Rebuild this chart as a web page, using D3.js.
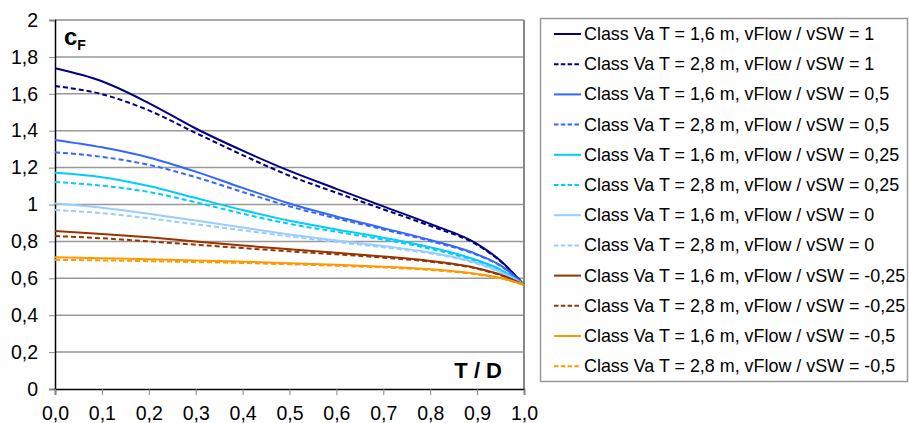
<html>
<head>
<script src="https://d3js.org/d3.v7.min.js"></script>
<style>
body { margin: 0; background: #fff; }
text { font-family: Arial, "Liberation Sans", sans-serif; fill: #000; }
</style>
</head>
<body>
<div id="canvas"></div>
<script>

// T / D positions
var xs = [0, 0.1, 0.2, 0.3, 0.4, 0.5, 0.6, 0.7, 0.8, 0.9, 0.95, 1.0];

var navy16 = [1.738, 1.668, 1.550, 1.412, 1.292, 1.182, 1.085, 0.990, 0.895, 0.787, 0.695, 0.565];
var navy28 = [1.642, 1.598, 1.510, 1.388, 1.268, 1.156, 1.064, 0.974, 0.884, 0.781, 0.692, 0.565];
var blue16 = [1.350, 1.310, 1.255, 1.178, 1.090, 1.005, 0.935, 0.872, 0.808, 0.730, 0.670, 0.565];
var blue28 = [1.283, 1.258, 1.215, 1.148, 1.068, 0.990, 0.925, 0.865, 0.802, 0.726, 0.667, 0.565];
var cyan16 = [1.172, 1.148, 1.100, 1.035, 0.970, 0.912, 0.865, 0.820, 0.768, 0.698, 0.647, 0.565];
var cyan28 = [1.122, 1.102, 1.068, 1.012, 0.950, 0.895, 0.852, 0.810, 0.760, 0.692, 0.642, 0.565];
var light16 = [1.006, 0.983, 0.950, 0.913, 0.875, 0.838, 0.805, 0.775, 0.740, 0.683, 0.635, 0.565];
var light28 = [0.970, 0.953, 0.925, 0.893, 0.860, 0.827, 0.797, 0.768, 0.735, 0.679, 0.632, 0.565];
var brown16 = [0.856, 0.840, 0.822, 0.800, 0.778, 0.757, 0.738, 0.718, 0.694, 0.655, 0.620, 0.565];
var brown28 = [0.829, 0.817, 0.800, 0.782, 0.764, 0.746, 0.730, 0.712, 0.690, 0.652, 0.617, 0.565];
var orange16 = [0.714, 0.709, 0.703, 0.697, 0.690, 0.682, 0.673, 0.663, 0.649, 0.624, 0.602, 0.565];
var orange28 = [0.700, 0.697, 0.693, 0.688, 0.683, 0.676, 0.668, 0.659, 0.645, 0.621, 0.599, 0.565];

var seriesNames = [
  "Class Va T = 1,6 m, vFlow / vSW = 1",
  "Class Va T = 2,8 m, vFlow / vSW = 1",
  "Class Va T = 1,6 m, vFlow / vSW = 0,5",
  "Class Va T = 2,8 m, vFlow / vSW = 0,5",
  "Class Va T = 1,6 m, vFlow / vSW = 0,25",
  "Class Va T = 2,8 m, vFlow / vSW = 0,25",
  "Class Va T = 1,6 m, vFlow / vSW = 0",
  "Class Va T = 2,8 m, vFlow / vSW = 0",
  "Class Va T = 1,6 m, vFlow / vSW = -0,25",
  "Class Va T = 2,8 m, vFlow / vSW = -0,25",
  "Class Va T = 1,6 m, vFlow / vSW = -0,5",
  "Class Va T = 2,8 m, vFlow / vSW = -0,5"
];
var seriesValues = [navy16, navy28, blue16, blue28, cyan16, cyan28, light16, light28, brown16, brown28, orange16, orange28];
var colors = ["#000080", "#000080", "#3366ff", "#3366ff", "#00ccff", "#00ccff",
              "#99ccff", "#99ccff", "#993300", "#993300", "#ff9900", "#ff9900"];

var xTicks = [0, 0.1, 0.2, 0.3, 0.4, 0.5, 0.6, 0.7, 0.8, 0.9, 1.0];
var yTicks = [0, 0.2, 0.4, 0.6, 0.8, 1, 1.2, 1.4, 1.6, 1.8, 2];

var width = 909, height = 423;
var plotLeft = 55, plotRight = 524, plotTop = 20, plotBottom = 389;

var svg = d3.select("#canvas").append("svg").attr("width", width).attr("height", height);

var x = d3.scaleLinear().domain([0, 1]).range([plotLeft, plotRight]);
var y = d3.scaleLinear().domain([0, 2]).range([plotBottom, plotTop]);

var comma = function(v, digits) { return v.toFixed(digits).replace(".", ","); };

// grid
svg.append("g").selectAll("line").data(yTicks.slice(1, -1)).enter().append("line")
  .attr("x1", plotLeft).attr("x2", plotRight)
  .attr("y1", function(d) { return y(d); }).attr("y2", function(d) { return y(d); })
  .attr("stroke", "#999").attr("stroke-width", 1.5);

// frame top / right
svg.append("line").attr("x1", plotLeft).attr("x2", plotRight).attr("y1", plotTop).attr("y2", plotTop)
  .attr("stroke", "#555").attr("stroke-width", 1.2);
svg.append("line").attr("x1", plotRight).attr("x2", plotRight).attr("y1", plotTop).attr("y2", plotBottom)
  .attr("stroke", "#888").attr("stroke-width", 2);

// axes
var yAxis = d3.axisLeft(y).tickValues(yTicks).tickSize(6).tickPadding(11)
  .tickFormat(function(d) { return d === 0 || d === 1 || d === 2 ? String(d) : comma(d, 1); });
var gy = svg.append("g").attr("transform", "translate(" + plotLeft + ",0)").call(yAxis);
gy.select(".domain").attr("stroke", "#000").attr("stroke-width", 1.5);
gy.selectAll(".tick line").attr("stroke", "#888");
gy.selectAll("text").style("font-size", "19.5px").style("font-family", "Arial, 'Liberation Sans', sans-serif");

var xAxis = d3.axisBottom(x).tickValues(xTicks).tickSize(6).tickPadding(11)
  .tickFormat(function(d) { return comma(d, 1); });
var gx = svg.append("g").attr("transform", "translate(0," + plotBottom + ")").call(xAxis);
gx.select(".domain").attr("stroke", "#000").attr("stroke-width", 1.5);
gx.selectAll(".tick line").attr("stroke", "#888");
gx.selectAll("text").style("font-size", "19.5px").style("font-family", "Arial, 'Liberation Sans', sans-serif");

// curves
var line = d3.line()
  .x(function(d, i) { return x(xs[i]); })
  .y(function(d) { return y(d); })
  .curve(d3.curveMonotoneX);

svg.append("g").selectAll("path").data(seriesValues).enter().append("path")
  .attr("d", line)
  .attr("fill", "none")
  .attr("stroke", function(d, i) { return colors[i]; })
  .attr("stroke-width", 2)
  .attr("stroke-dasharray", function(d, i) { return i % 2 ? "5,3" : null; });

// axis titles
var cf = svg.append("text").attr("x", 64).attr("y", 45).attr("font-size", 24).attr("font-weight", "bold");
cf.append("tspan").text("c");
cf.append("tspan").attr("font-size", 14).attr("dy", 5).text("F");

svg.append("text").attr("x", 502).attr("y", 377.5).attr("text-anchor", "end")
  .attr("font-size", 22).attr("font-weight", "bold").text("T / D");

// legend
svg.append("rect").attr("x", 540.5).attr("y", 18.5).attr("width", 367).attr("height", 363)
  .attr("fill", "#fff").attr("stroke", "#999").attr("stroke-width", 1.5);

var leg = svg.append("g").selectAll("g").data(seriesNames).enter().append("g")
  .attr("transform", function(d, i) { return "translate(0," + (34 + i * 30.2) + ")"; });
leg.append("line").attr("x1", 554).attr("x2", 581).attr("y1", 0).attr("y2", 0)
  .attr("stroke", function(d, i) { return colors[i]; })
  .attr("stroke-width", 2)
  .attr("stroke-dasharray", function(d, i) { return i % 2 ? "4.5,2.3" : null; });
leg.append("text").attr("x", 584).attr("y", 6).attr("font-size", 17.9).text(function(d) { return d; });

</script>
</body>
</html>
